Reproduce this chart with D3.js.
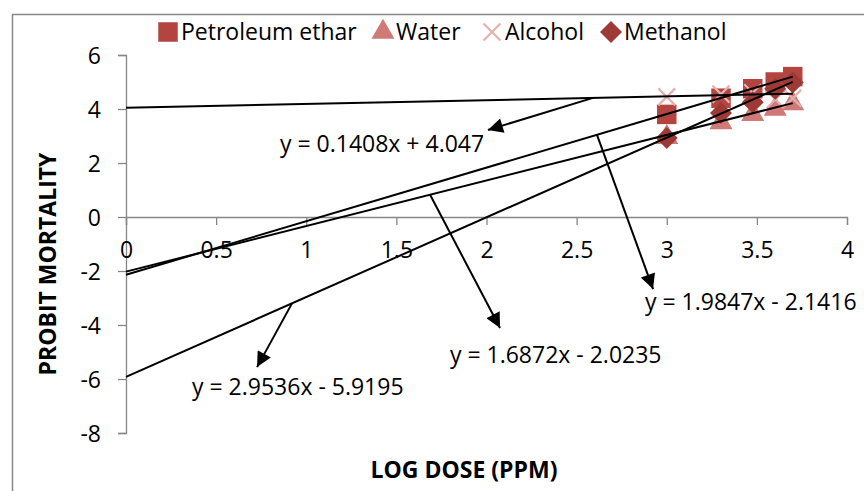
<!DOCTYPE html>
<html>
<head>
<meta charset="utf-8">
<script src="https://cdn.jsdelivr.net/npm/d3@7/dist/d3.min.js"></script>
<style>
  html, body { margin: 0; padding: 0; background: #fff; }
  svg { display: block; }
  text { font-family: "Open Sans", Calibri, sans-serif; fill: #000; }
</style>
</head>
<body>
<svg id="chart" width="864" height="491"></svg>
<script>
// ---- data ----
const logDose = [3, 3.301, 3.477, 3.602, 3.699];
const petroleumEthar = [3.8, 4.4, 4.75, 5.0, 5.2];
const water = [2.95, 3.5, 3.8, 4.0, 4.2];
const alcohol = [4.45, 4.55, 4.6, 4.35, 4.4];
const methanol = [2.93, 3.85, 4.25, 4.75, 4.98];

const seriesNames = ["Petroleum ethar", "Water", "Alcohol", "Methanol"];
const seriesColors = ["#B3443F", "#CF7A76", "#E2B1B0", "#9E3A36"];
const seriesSymbols = ["square", "triangle", "cross", "diamond"];

// trendlines: slope / intercept (as printed in the chart)
const trendSlopes = [1.9847, 1.6872, 0.1408, 2.9536];
const trendIntercepts = [-2.1416, -2.0235, 4.047, -5.9195];
const trendLabels = ["y = 1.9847x - 2.1416", "y = 1.6872x - 2.0235", "y = 0.1408x + 4.047", "y = 2.9536x - 5.9195"];
// callout arrows: start x on the trend line, tip (x,y), label anchor (x,y) in data units
const calloutStartX = [2.613, 1.687, 2.591, 0.921];
const calloutTipX = [2.924, 2.075, 2.008, 0.727];
const calloutTipY = [-2.67, -4.11, 3.22, -5.56];
const labelX = [2.879, 1.797, 0.854, 0.366];
const labelY = [-3.44, -5.41, 2.41, -6.59];

const xTicks = [0, 0.5, 1, 1.5, 2, 2.5, 3, 3.5, 4];
const yTicks = [-8, -6, -4, -2, 0, 2, 4, 6];

const svg = d3.select("#chart");

// chart frame
svg.append("rect").attr("x", 12.5).attr("y", 14.5).attr("width", 900).attr("height", 600)
  .attr("fill", "#fff").attr("stroke", "#898989").attr("stroke-width", 1.5);

const x = d3.scaleLinear().domain([0, 4]).range([126, 847]);
const y = d3.scaleLinear().domain([-8, 6]).range([433, 55]);

const axisColor = "#868686";
const fs = "23px";

// y axis
const yAxis = svg.append("g").attr("transform", `translate(${x(0)},0)`)
  .call(d3.axisLeft(y).tickValues(yTicks).tickSize(8).tickPadding(17).tickFormat(d3.format("d")));
yAxis.select(".domain").attr("stroke", axisColor).attr("stroke-width", 1.3);
yAxis.selectAll(".tick line").attr("stroke", axisColor).attr("stroke-width", 1.3);
yAxis.selectAll(".tick text").style("font-size", fs).attr("dy", "0.36em").text(d => d < 0 ? "-" + Math.abs(d) : d);

// x axis at y=0
const xAxis = svg.append("g").attr("transform", `translate(0,${y(0)})`)
  .call(d3.axisBottom(x).tickValues(xTicks).tickSize(8).tickPadding(17).tickFormat(d => String(d)));
xAxis.select(".domain").attr("stroke", axisColor).attr("stroke-width", 1.3);
xAxis.selectAll(".tick line").attr("stroke", axisColor).attr("stroke-width", 1.3);
xAxis.selectAll(".tick text").style("font-size", fs);

// markers
const sym = {
  square: d3.symbol().type(d3.symbolSquare).size(380),
  triangle: d3.symbol().type(d3.symbolTriangle).size(230)
};
function drawMarker(g, type, color, cx, cy) {
  if (type === "cross") {
    const h = 8.5;
    g.append("path")
      .attr("d", `M${cx - h},${cy - h}L${cx + h},${cy + h}M${cx - h},${cy + h}L${cx + h},${cy - h}`)
      .attr("stroke", color).attr("stroke-width", 2.2).attr("fill", "none");
  } else if (type === "diamond") {
    const r = 11;
    g.append("path")
      .attr("d", `M${cx},${cy - r}L${cx + r},${cy}L${cx},${cy + r}L${cx - r},${cy}Z`)
      .attr("fill", color);
  } else {
    g.append("path").attr("d", sym[type]()).attr("transform", `translate(${cx},${cy})`).attr("fill", color);
  }
}
const seriesValues = [petroleumEthar, water, alcohol, methanol];
const markers = svg.append("g");
seriesValues.forEach((vals, i) => {
  vals.forEach((v, j) => drawMarker(markers, seriesSymbols[i], seriesColors[i], x(logDose[j]), y(v)));
});

// trendlines from x=0 to last dose
const xMax = d3.max(logDose);
const trendG = svg.append("g");
trendSlopes.forEach((m, i) => {
  const b = trendIntercepts[i];
  trendG.append("line")
    .attr("x1", x(0)).attr("y1", y(b))
    .attr("x2", x(xMax)).attr("y2", y(m * xMax + b))
    .attr("stroke", "#000").attr("stroke-width", 2);
});

// callouts
svg.append("defs").append("marker")
  .attr("id", "arrow").attr("viewBox", "0 0 10 10").attr("refX", 10).attr("refY", 5)
  .attr("markerWidth", 8.5).attr("markerHeight", 7.5).attr("markerUnits", "strokeWidth")
  .attr("orient", "auto")
  .append("path").attr("d", "M0,0L10,5L0,10Z").attr("fill", "#000");

const callG = svg.append("g");
trendSlopes.forEach((m, i) => {
  const sx = calloutStartX[i];
  const sy = m * sx + trendIntercepts[i];
  callG.append("line")
    .attr("x1", x(sx)).attr("y1", y(sy))
    .attr("x2", x(calloutTipX[i])).attr("y2", y(calloutTipY[i]))
    .attr("stroke", "#000").attr("stroke-width", 2)
    .attr("marker-end", "url(#arrow)");
  callG.append("text")
    .attr("x", x(labelX[i])).attr("y", y(labelY[i]))
    .style("font-size", fs)
    .text(trendLabels[i]);
});

// axis titles
svg.append("text")
  .attr("transform", `translate(56,264) rotate(-90)`)
  .attr("text-anchor", "middle")
  .style("font-size", "23px").style("font-weight", "bold")
  .text("PROBIT MORTALITY");
svg.append("text")
  .attr("x", 464).attr("y", 478)
  .attr("text-anchor", "middle")
  .style("font-size", "23px").style("font-weight", "bold")
  .text("LOG DOSE (PPM)");

// legend
const legendX = [168, 383, 492, 611];
const legend = svg.append("g");
seriesNames.forEach((name, i) => {
  drawMarker(legend, seriesSymbols[i], seriesColors[i], legendX[i], 32);
  legend.append("text")
    .attr("x", legendX[i] + 13).attr("y", 32).attr("dy", "0.36em")
    .style("font-size", fs)
    .text(name);
});
</script>
</body>
</html>
